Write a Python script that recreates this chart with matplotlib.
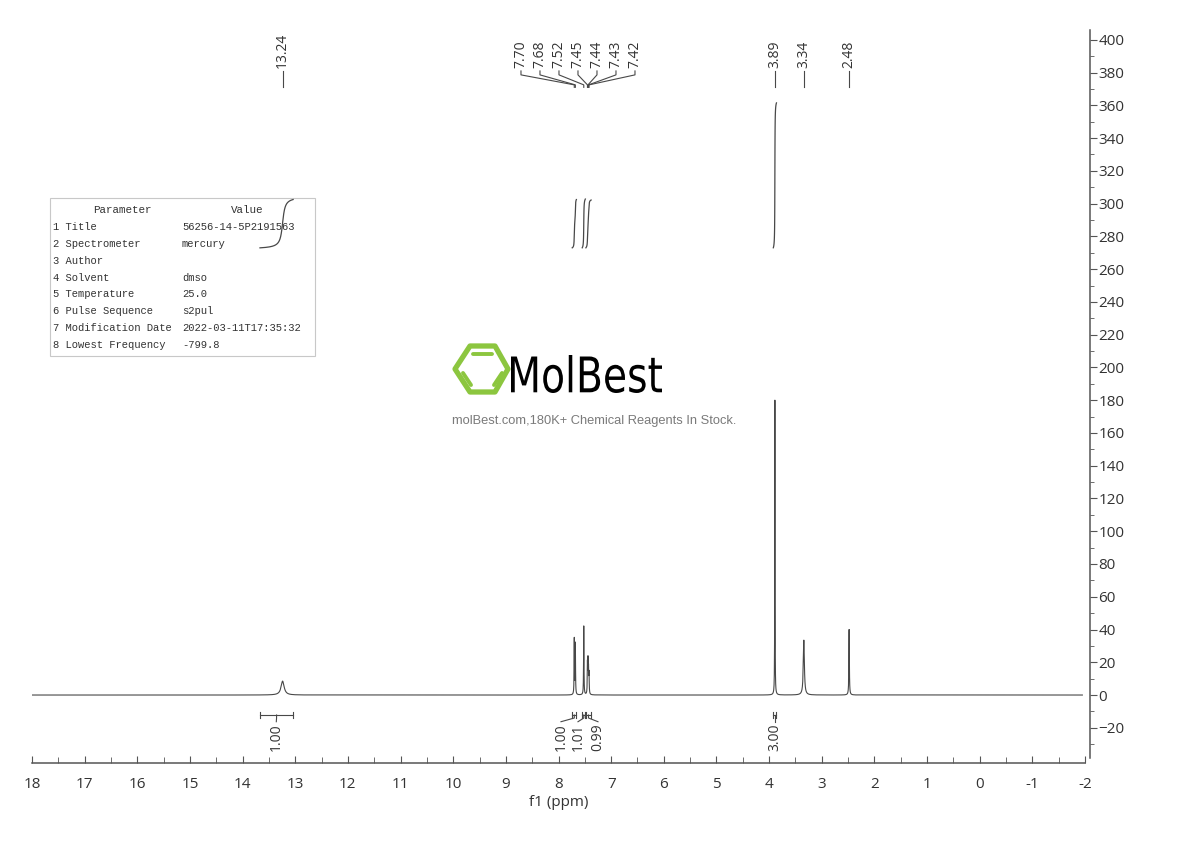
#!/usr/bin/env python

""" 1H NMR spectrum (dmso) with peak picks, integrals and parameter table. """

import numpy as np
import matplotlib
matplotlib.use("Agg")
import matplotlib.pyplot as plt
from matplotlib.patches import Rectangle, Polygon, PathPatch
from matplotlib.textpath import TextPath
from matplotlib.font_manager import FontProperties
from matplotlib.transforms import Affine2D


# Peaks (ppm, height, half width)
peak_ppm = [13.24, 7.70, 7.68, 7.52, 7.45, 7.44, 7.43, 7.42, 3.89, 3.34, 2.48]
peak_height = [8.5, 34, 31, 42, 18, 19, 14, 12, 180, 33.5, 40]
peak_hw = [0.035, 0.004, 0.004, 0.004, 0.004, 0.004, 0.004, 0.004, 0.003, 0.012, 0.005]

# Peak labels at the top
single_labels = ["13.24", "3.89", "3.34", "2.48"]
group_labels = ["7.70", "7.68", "7.52", "7.45", "7.44", "7.43", "7.42"]

# Integrals (from ppm, to ppm, value)
integral_from = [13.67, 7.74, 7.55, 7.48, 3.92]
integral_to = [13.04, 7.66, 7.49, 7.38, 3.86]
integral_text = ["1.00", "1.00", "1.01", "0.99", "3.00"]

# Parameter table
param_names = ["1 Title", "2 Spectrometer", "3 Author", "4 Solvent", "5 Temperature",
               "6 Pulse Sequence", "7 Modification Date", "8 Lowest Frequency"]
param_values = ["56256-14-5P2191563", "mercury", "", "dmso", "25.0", "s2pul",
                "2022-03-11T17:35:32", "-799.8"]

x_ticks = list(range(18, -3, -1))
y_ticks = list(range(-20, 401, 20))

TXT = "#333333"
LINE = "#484848"
FONT = ["Open Sans", "DejaVu Sans"]

# Pixel scale helpers (figure is 1190x841 at dpi 100)
PX_PER_PPM = (1085 - 32) / 20.0
PX_PER_UNIT = 32.75 / 20.0


def ppm_dx(px):
    return px / PX_PER_PPM


def unit_dy(px):
    return px / PX_PER_UNIT


# Build the spectrum from the peak list
x = np.arange(-1.95, 17.99, 0.0005)
y = np.zeros_like(x)
for p, h, w in zip(peak_ppm, peak_height, peak_hw):
    y += h / (1.0 + ((x - p) / w) ** 2)

fig = plt.figure(figsize=(11.9, 8.41), dpi=100)

# Overlay in pixel coords for table and watermark
ov = fig.add_axes([0, 0, 1, 1], zorder=0)
ov.set_xlim(0, 1190)
ov.set_ylim(841, 0)
ov.axis("off")

ax = fig.add_axes([32 / 1190, 1 - 763 / 841, (1085 - 32) / 1190, (763 - 30) / 841], zorder=1)
ax.patch.set_visible(False)
ax.plot(x, y, color=LINE, lw=0.8)
ax.set_xlim(18, -2)
ax.set_ylim(-41.5, 406)

# Axes styling
for s in ["top", "left"]:
    ax.spines[s].set_visible(False)
ax.spines["bottom"].set_color("#555555")
ax.spines["right"].set_color("#555555")
ax.spines["bottom"].set_linewidth(1.1)
ax.spines["right"].set_linewidth(1.1)
ax.spines["right"].set_position(("outward", 3.6))
ax.spines["right"].set_bounds(-38.5, 406)
ax.yaxis.tick_right()
ax.set_xticks(x_ticks)
ax.set_xticklabels([str(t) for t in x_ticks])
ax.set_xticks(np.arange(-1.5, 18, 1.0), minor=True)
ax.set_yticks(y_ticks)
ax.set_yticks(np.arange(-30, 401, 20), minor=True)
ax.tick_params(axis="x", which="both", direction="in", color="#555555",
               labelcolor=TXT, labelsize=11, pad=10)
ax.tick_params(axis="x", which="major", length=5)
ax.tick_params(axis="x", which="minor", length=4)
ax.tick_params(axis="y", which="both", direction="out", color="#555555",
               labelcolor=TXT, labelsize=11, pad=1)
ax.tick_params(axis="y", which="major", length=5)
ax.tick_params(axis="y", which="minor", length=3)
for lab in ax.get_xticklabels() + ax.get_yticklabels():
    lab.set_family(FONT)
ax.set_xlabel("f1 (ppm)", fontsize=11, color=TXT, family=FONT, labelpad=2)

# Integral curves and brackets
base = 273.0
unit = 29.5
ax_tr = dict(clip_on=False)
label_x = [13.36, 7.953, 7.63, 7.25, 3.89]
for a, b, t, lx in zip(integral_from, integral_to, integral_text, label_x):
    m = (x <= a) & (x >= b)
    xs = x[m][::-1]
    ys = y[m][::-1]
    cum = np.cumsum(ys)
    cum = cum / cum[-1] * float(t) * unit + base
    ax.plot(xs, cum, color=LINE, lw=0.9)

    yb = -12.2
    ax.plot([a, b], [yb, yb], color=LINE, lw=0.8, **ax_tr)
    for e in (a, b):
        ax.plot([e, e], [yb - unit_dy(3), yb + unit_dy(3)], color=LINE, lw=0.8, **ax_tr)
    c = (a + b) / 2.0
    ax.plot([c, c, lx], [yb, yb - unit_dy(3), -16.3], color=LINE, lw=0.8, **ax_tr)
    ax.text(lx, -17.3, t, rotation=90, ha="center", va="top", fontsize=10,
            color=TXT, family=FONT)

# Peak labels at the top
y_txt = 383.0
for lab in single_labels:
    p = float(lab)
    ax.plot([p, p], [371, 381], color=LINE, lw=0.8)
    ax.text(p, y_txt, lab, rotation=90, ha="center", va="bottom", fontsize=10,
            color=TXT, family=FONT)

grp_center = 7.63
grp_step = ppm_dx(19)
for i, lab in enumerate(group_labels):
    p = float(lab)
    lx = grp_center + (3 - i) * grp_step
    ax.plot([lx, lx, p, p], [381, 378.6, 372.5, 371], color=LINE, lw=0.8)
    ax.text(lx, y_txt, lab, rotation=90, ha="center", va="bottom", fontsize=10,
            color=TXT, family=FONT)

# Parameter table
ov.add_patch(Rectangle((50, 198), 265, 158, facecolor="white", edgecolor="#c8c8c8", lw=0.8))
tfont = ["Liberation Mono", "DejaVu Sans Mono"]
ov.text(122, 210, "Parameter", ha="center", va="center", fontsize=7.8, color=TXT, family=tfont)
ov.text(247, 210, "Value", ha="center", va="center", fontsize=7.8, color=TXT, family=tfont)
for i, (n, v) in enumerate(zip(param_names, param_values)):
    yy = 227 + i * 16.85
    ov.text(53, yy, n, ha="left", va="center", fontsize=7.6, color=TXT, family=tfont)
    ov.text(182, yy, v, ha="left", va="center", fontsize=7.6, color=TXT, family=tfont)

# Watermark logo
green = "#8cc63f"
hexagon = [(455, 369), (470, 346), (495, 346), (508, 369), (495, 392), (470, 392)]
ov.add_patch(Polygon(hexagon, closed=True, fill=False, edgecolor=green, lw=3.8,
                     joinstyle="round"))
ov.plot([473, 492], [354, 354], color=green, lw=2.8, solid_capstyle="round")
ov.plot([463, 471], [373, 385], color=green, lw=2.8, solid_capstyle="round")
ov.plot([502, 494], [373, 385], color=green, lw=2.8, solid_capstyle="round")

tp = TextPath((0, 0), "MolBest", size=40,
              prop=FontProperties(family=["Liberation Sans Narrow", "DejaVu Sans"]))
ext = tp.get_extents()
sx = (662 - 511) / ext.width
sy = (393 - 355) / ext.height
tr = Affine2D().translate(-ext.x0, -ext.y0).scale(sx, -sy).translate(511, 393)
ov.add_patch(PathPatch(tp, transform=tr + ov.transData, facecolor="black", lw=0))
ov.text(594, 421, "molBest.com,180K+ Chemical Reagents In Stock.", ha="center",
        va="center", fontsize=9.3, color="#7a7a7a", family=["Liberation Sans", "DejaVu Sans"])

fig.savefig("out.png", dpi=100)
